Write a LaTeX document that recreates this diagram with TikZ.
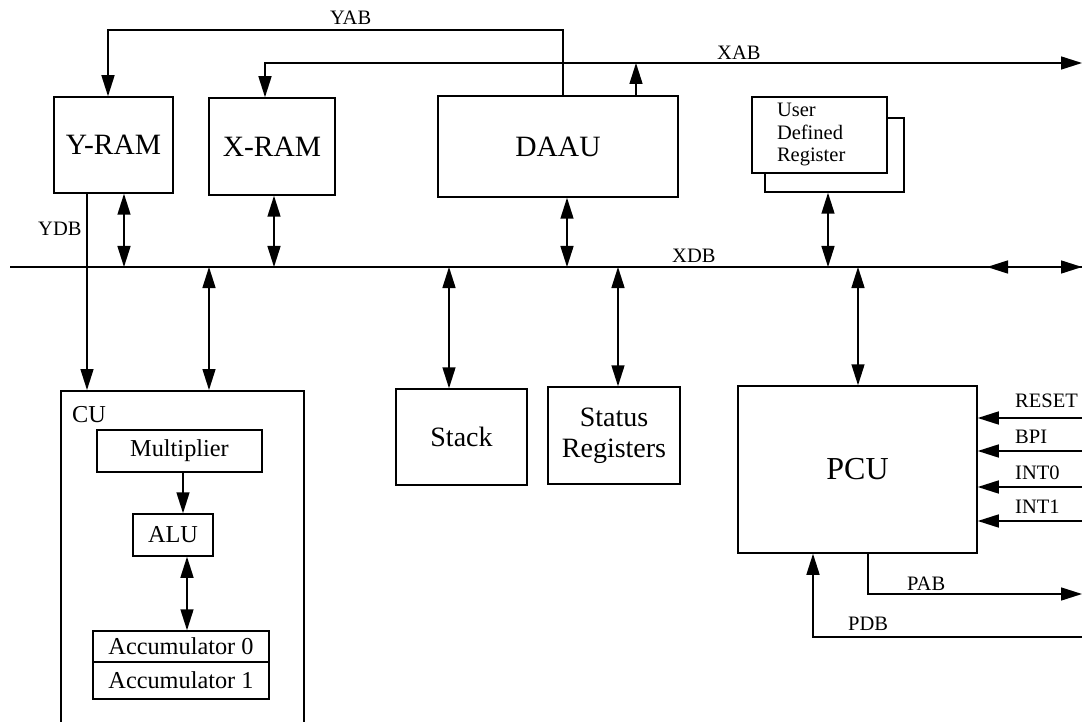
\documentclass[tikz,border=0pt]{standalone}
\usepackage{fontspec}
\setmainfont{Liberation Serif}
\usetikzlibrary{arrows.meta}
\tikzset{
  box/.style={draw, line width=1.5pt, fill=white, inner sep=0pt, align=center},
  big/.style={font=\fontsize{29.5}{33}\selectfont},
  mid/.style={font=\fontsize{28}{31}\selectfont},
  small/.style={font=\fontsize{24.3}{28}\selectfont},
  lbl/.style={font=\fontsize{20.5}{22.5}\selectfont, inner sep=0pt},
  wire/.style={line width=1.5pt},
  arr/.style={wire, -{Triangle[length=21pt,width=13pt]}},
  darr/.style={wire, {Triangle[length=21pt,width=13pt]}-{Triangle[length=21pt,width=13pt]}}
}
\begin{document}
\begin{tikzpicture}[x=1pt,y=-1pt]
\clip (0,0) rectangle (1082,722);
\fill[white] (0,0) rectangle (1082,722);

% boxes
\node[box, big, minimum width=119pt, minimum height=96pt] (yram) at (113.5,145) {Y-RAM};
\node[box, big, minimum width=126pt, minimum height=97pt] (xram) at (272,146.5) {X-RAM};
\node[box, big, minimum width=240pt, minimum height=101pt] (daau) at (558,146.5) {DAAU};
\node[box, minimum width=139pt, minimum height=74pt] (udrb) at (834.5,155) {};
\node[box, lbl, inner xsep=25pt, text width=85pt, align=left, minimum height=76pt] (udr) at (819.5,135) {User\\Defined\\Register};

\node[box, anchor=north, minimum width=243pt, minimum height=345pt] (cu) at (182.5,390) {};
\node[small, anchor=base west, inner sep=0pt] (culbl) at (72,422) {CU};
\node[box, small, minimum width=165pt, minimum height=42pt] (mult) at (179.5,451) {Multiplier};
\node[box, small, minimum width=80pt, minimum height=42pt] (alu) at (173,535) {ALU};
\node[box, small, minimum width=176pt, minimum height=31pt] (acc0) at (181,646.5) {Accumulator 0};
\node[box, small, minimum width=176pt, minimum height=37pt] (acc1) at (181,680.5) {Accumulator 1};

\node[box, mid, minimum width=131pt, minimum height=96pt] (stack) at (461.5,437) {Stack};
\node[box, mid, minimum width=132pt, minimum height=97pt] (status) at (614,435.5) {Status\\Registers};
\node[box, font=\fontsize{32}{36}\selectfont, minimum width=239pt, minimum height=167pt] (pcu) at (857.5,469.5) {PCU};

% bus coordinates
\coordinate (xdbL) at (10,267);
\coordinate (xdbR) at (1082,267);
\coordinate (xabR) at (1082,63);

% XDB bus
\draw[wire] (xdbL) -- (xdbR);
\draw[darr] (987,267) -- (xdbR);

% YAB
\draw[arr] (563,0 |- daau.north) |- (108,30) -- (108,0 |- yram.north);
% XAB
\draw[darr] (265,0 |- xram.north) |- (xabR);
\draw[arr] (636,0 |- daau.north) -- (636,63);

% data connections
\draw[darr] (124,0 |- yram.south) -- (124,267);
\draw[darr] (274,0 |- xram.south) -- (274,267);
\draw[darr] (567,0 |- daau.south) -- (567,267);
\draw[darr] (828,0 |- udrb.south) -- (828,267);
\draw[arr] (87,0 |- yram.south) -- (87,0 |- cu.north);
\draw[darr] (209,267) -- (209,0 |- cu.north);
\draw[darr] (449,267) -- (449,0 |- stack.north);
\draw[darr] (618,267) -- (618,0 |- status.north);
\draw[darr] (858,267) -- (858,0 |- pcu.north);

% inside CU
\draw[arr] (183,0 |- mult.south) -- (183,0 |- alu.north);
\draw[darr] (187,0 |- alu.south) -- (187,0 |- acc0.north);

% PCU inputs
\coordinate (rst) at (1082,418);
\coordinate (bpi) at (1082,451);
\coordinate (int0) at (1082,487);
\coordinate (int1) at (1082,521);
\draw[arr] (rst) -- (pcu.east |- rst);
\draw[arr] (bpi) -- (pcu.east |- bpi);
\draw[arr] (int0) -- (pcu.east |- int0);
\draw[arr] (int1) -- (pcu.east |- int1);

% PAB / PDB
\coordinate (pabR) at (1082,594);
\coordinate (pdbR) at (1082,637);
\draw[arr] (868,0 |- pcu.south) |- (pabR);
\draw[arr] (pdbR) -| (813,0 |- pcu.south);

% labels
\node[lbl, anchor=base west] (yabl) at (330,25) {YAB};
\node[lbl, anchor=base west] (xabl) at (717,60) {XAB};
\node[lbl, anchor=base west] (xdbl) at (672,262) {XDB};
\node[lbl, anchor=base west] (ydbl) at (38,236) {YDB};
\node[lbl, anchor=base west] (rstl) at (1015,407) {RESET};
\node[lbl, anchor=base west] (bpil) at (1015,443) {BPI};
\node[lbl, anchor=base west] (int0l) at (1015,479) {INT0};
\node[lbl, anchor=base west] (int1l) at (1015,513) {INT1};
\node[lbl, anchor=base west] (pabl) at (907,590) {PAB};
\node[lbl, anchor=base west] (pdbl) at (848,630) {PDB};
\end{tikzpicture}
\end{document}
